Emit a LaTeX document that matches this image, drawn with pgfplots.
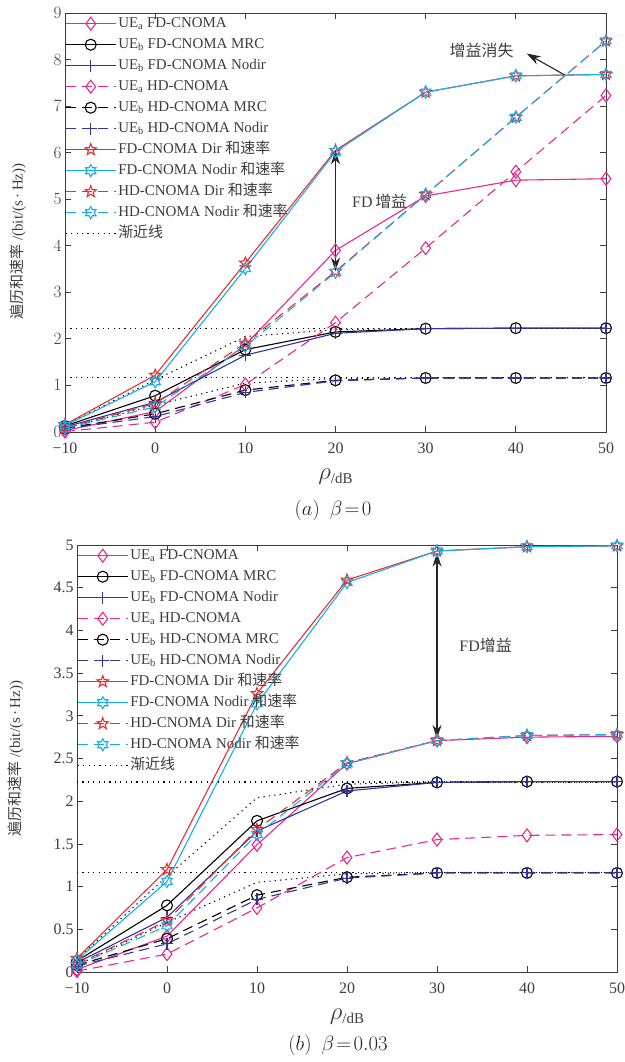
\documentclass[border=0pt]{standalone}
\usepackage{pgfplots}
\pgfplotsset{compat=1.18}
\usepackage{fontspec}
\setmainfont{Liberation Serif}
\newfontfamily\cjk{Noto Sans CJK SC}
\usetikzlibrary{arrows.meta}

\definecolor{cMag}{RGB}{232,40,140}
\definecolor{cBlue}{RGB}{50,50,160}
\definecolor{cRed}{RGB}{235,45,45}
\definecolor{cCyan}{RGB}{20,175,235}
\definecolor{cAx}{RGB}{60,60,60}

\pgfdeclareplotmark{pent}{%
 \pgfpathmoveto{\pgfpointpolar{90}{\pgfplotmarksize}}%
 \pgfpathlineto{\pgfpointpolar{126}{0.42*\pgfplotmarksize}}%
 \pgfpathlineto{\pgfpointpolar{162}{\pgfplotmarksize}}%
 \pgfpathlineto{\pgfpointpolar{198}{0.42*\pgfplotmarksize}}%
 \pgfpathlineto{\pgfpointpolar{234}{\pgfplotmarksize}}%
 \pgfpathlineto{\pgfpointpolar{270}{0.42*\pgfplotmarksize}}%
 \pgfpathlineto{\pgfpointpolar{306}{\pgfplotmarksize}}%
 \pgfpathlineto{\pgfpointpolar{342}{0.42*\pgfplotmarksize}}%
 \pgfpathlineto{\pgfpointpolar{18}{\pgfplotmarksize}}%
 \pgfpathlineto{\pgfpointpolar{54}{0.42*\pgfplotmarksize}}%
 \pgfpathclose\pgfusepathqstroke}
\pgfdeclareplotmark{hexa}{%
 \pgfpathmoveto{\pgfpointpolar{90}{\pgfplotmarksize}}%
 \pgfpathlineto{\pgfpointpolar{120}{0.577*\pgfplotmarksize}}%
 \pgfpathlineto{\pgfpointpolar{150}{\pgfplotmarksize}}%
 \pgfpathlineto{\pgfpointpolar{180}{0.577*\pgfplotmarksize}}%
 \pgfpathlineto{\pgfpointpolar{210}{\pgfplotmarksize}}%
 \pgfpathlineto{\pgfpointpolar{240}{0.577*\pgfplotmarksize}}%
 \pgfpathlineto{\pgfpointpolar{270}{\pgfplotmarksize}}%
 \pgfpathlineto{\pgfpointpolar{300}{0.577*\pgfplotmarksize}}%
 \pgfpathlineto{\pgfpointpolar{330}{\pgfplotmarksize}}%
 \pgfpathlineto{\pgfpointpolar{0}{0.577*\pgfplotmarksize}}%
 \pgfpathlineto{\pgfpointpolar{30}{\pgfplotmarksize}}%
 \pgfpathlineto{\pgfpointpolar{60}{0.577*\pgfplotmarksize}}%
 \pgfpathclose\pgfusepathqstroke}

\pgfplotsset{
 base/.style={
  scale only axis, xmin=-10, xmax=50,
  xtick={-10,0,10,20,30,40,50},
  xticklabels={−10,0,10,20,30,40,50},
  tick align=inside, major tick length=6bp,
  axis line style={cAx, line width=1pt},
  tick style={cAx, line width=0.8pt},
  tick label style={font=\fontsize{16}{18}\selectfont, text=cAx},
  xticklabel style={yshift=-7bp},
  clip=false,
  xlabel={{\fontsize{26}{28}\selectfont$\rho$}{\fontsize{15}{17}\selectfont\raisebox{-4bp}{/dB}}},
  xlabel style={text=cAx, yshift=-9bp},
  legend style={draw=none, fill=none, at={(0,1)}, anchor=north west,
    inner xsep=0pt, inner ysep=0pt,
    font=\fontsize{15}{17}\selectfont, text=cAx,
    nodes={inner sep=2bp, text height=12bp, text depth=5bp},
    cells={anchor=west}},
  legend image code/.code={\draw[mark repeat=2,mark phase=2,##1] plot coordinates {(0bp,0bp) (25bp,0bp) (50bp,0bp)};},
  every axis plot/.append style={line width=1.1pt},
  legend entries={
   UE\textsubscript{a} FD-CNOMA,
   UE\textsubscript{b} FD-CNOMA MRC,
   UE\textsubscript{b} FD-CNOMA Nodir,
   UE\textsubscript{a} HD-CNOMA,
   UE\textsubscript{b} HD-CNOMA MRC,
   UE\textsubscript{b} HD-CNOMA Nodir,
   FD-CNOMA Dir {\cjk 和速率},
   FD-CNOMA Nodir {\cjk 和速率},
   HD-CNOMA Dir {\cjk 和速率},
   HD-CNOMA Nodir {\cjk 和速率},
   {\cjk 渐近线}},
  ylabel={{\cjk 遍历和速率} /(bit/(s\,·\,Hz))},
 },
 sFDa/.style={cMag, solid, mark=diamond, mark size=6.5bp, mark options={solid}},
 sFDbM/.style={black, solid, mark=o, mark size=5.5bp, mark options={solid}},
 sFDbN/.style={cBlue, solid, mark=+, mark size=6bp, mark options={solid}},
 sHDa/.style={cMag, dash pattern=on 10bp off 6bp, mark=diamond, mark size=6.5bp, mark options={solid}},
 sHDbM/.style={black, dash pattern=on 10bp off 6bp, mark=o, mark size=5.5bp, mark options={solid}},
 sHDbN/.style={cBlue, dash pattern=on 10bp off 6bp, mark=+, mark size=6bp, mark options={solid}},
 sFDsD/.style={cRed, solid, mark=pent, mark size=6bp, mark options={solid}},
 sFDsN/.style={cCyan, solid, mark=hexa, mark size=6bp, mark options={solid}},
 sHDsD/.style={cRed, dash pattern=on 10bp off 6bp, mark=pent, mark size=6bp, mark options={solid}},
 sHDsN/.style={cCyan, dash pattern=on 10bp off 6bp, mark=hexa, mark size=6bp, mark options={solid}},
 sAsym/.style={black, line width=1.1pt, dash pattern=on 1.2bp off 4.2bp, no markers},
}

\begin{document}
\begin{tikzpicture}
\path[use as bounding box] (0bp,0bp) rectangle (625bp,-1062bp);

% ---------------- (a) beta = 0 ----------------
\begin{axis}[base, at={(65bp,-432bp)}, anchor=south west,
  width=541bp, height=419bp, ymin=0, ymax=9, ytick={0,1,...,9},
  ylabel style={at={(axis description cs:-0.087,0.455)}, anchor=center, font=\fontsize{15}{17}\selectfont, text=cAx}]
\addplot[sAsym, forget plot] coordinates {(-10,2.225) (50,2.225)};
\addplot[sAsym, forget plot] coordinates {(-10,1.165) (50,1.165)};
\addplot[sAsym, forget plot] coordinates {(-10,0.15) (0,1.12) (10,2.05) (20,2.20) (30,2.225) (40,2.225) (50,2.225)};
\addplot[sAsym, forget plot] coordinates {(-10,0.08) (0,0.58) (10,1.05) (20,1.15) (30,1.165) (40,1.165) (50,1.165)};
\addplot[sFDa] coordinates {(-10,0.03) (0,0.44) (10,1.87) (20,3.90) (30,5.07) (40,5.41) (50,5.44)};
\addplot[sFDbM] coordinates {(-10,0.13) (0,0.78) (10,1.77) (20,2.15) (30,2.22) (40,2.23) (50,2.23)};
\addplot[sFDbN] coordinates {(-10,0.11) (0,0.64) (10,1.65) (20,2.12) (30,2.22) (40,2.23) (50,2.23)};
\addplot[sHDa] coordinates {(-10,0.01) (0,0.21) (10,1.02) (20,2.35) (30,3.95) (40,5.59) (50,7.23)};
\addplot[sHDbM] coordinates {(-10,0.08) (0,0.39) (10,0.90) (20,1.11) (30,1.16) (40,1.16) (50,1.16)};
\addplot[sHDbN] coordinates {(-10,0.07) (0,0.33) (10,0.85) (20,1.10) (30,1.16) (40,1.16) (50,1.16)};
\addplot[sFDsD] coordinates {(-10,0.16) (0,1.22) (10,3.63) (20,6.05) (30,7.30) (40,7.65) (50,7.68)};
\addplot[sFDsN] coordinates {(-10,0.14) (0,1.08) (10,3.51) (20,6.02) (30,7.30) (40,7.65) (50,7.68)};
\addplot[sHDsD] coordinates {(-10,0.09) (0,0.61) (10,1.91) (20,3.45) (30,5.10) (40,6.76) (50,8.40)};
\addplot[sHDsN] coordinates {(-10,0.08) (0,0.54) (10,1.84) (20,3.43) (30,5.10) (40,6.76) (50,8.40)};
\addlegendimage{sAsym}
\draw[black!85, line width=1.1pt, {Stealth[length=14bp,width=9bp]}-{Stealth[length=14bp,width=9bp]}] (axis cs:20,3.45) -- (axis cs:20,6.05);
\node[text=cAx, font=\fontsize{16}{18}\selectfont] at (axis cs:24.9,4.95) {FD\,{\cjk 增益}};
\node[text=cAx, font=\fontsize{16}{18}\selectfont] at (axis cs:36.2,8.2) {{\cjk 增益消失}};
\draw[black!85, line width=1.1pt, -{Stealth[length=14bp,width=9bp]}] (axis cs:45.4,7.67) -- (axis cs:41.2,8.13);
\end{axis}
\node[text=black!85] at (333bp,-510bp) {\fontsize{20}{22}\selectfont$(a)\ \ \beta\!=\!0$};

% ---------------- (b) beta = 0.03 ----------------
\begin{axis}[base, at={(77bp,-972bp)}, anchor=south west,
  width=540bp, height=427bp, ymin=0, ymax=5, ytick={0,0.5,...,5},
  yticklabels={0,0.5,1,1.5,2,2.5,3,3.5,4,4.5,5},
  ylabel style={at={(axis description cs:-0.114,0.5)}, anchor=center, font=\fontsize{15}{17}\selectfont, text=cAx}]
\addplot[sAsym, forget plot] coordinates {(-10,2.225) (50,2.225)};
\addplot[sAsym, forget plot] coordinates {(-10,1.165) (50,1.165)};
\addplot[sAsym, forget plot] coordinates {(-10,0.15) (0,1.12) (10,2.04) (20,2.20) (30,2.225) (40,2.225) (50,2.225)};
\addplot[sAsym, forget plot] coordinates {(-10,0.08) (0,0.58) (10,1.05) (20,1.15) (30,1.165) (40,1.165) (50,1.165)};
\addplot[sFDa] coordinates {(-10,0.03) (0,0.42) (10,1.49) (20,2.44) (30,2.71) (40,2.75) (50,2.76)};
\addplot[sFDbM] coordinates {(-10,0.13) (0,0.78) (10,1.77) (20,2.15) (30,2.22) (40,2.23) (50,2.23)};
\addplot[sFDbN] coordinates {(-10,0.11) (0,0.64) (10,1.65) (20,2.12) (30,2.22) (40,2.23) (50,2.23)};
\addplot[sHDa] coordinates {(-10,0.01) (0,0.21) (10,0.75) (20,1.34) (30,1.55) (40,1.60) (50,1.61)};
\addplot[sHDbM] coordinates {(-10,0.08) (0,0.39) (10,0.90) (20,1.11) (30,1.16) (40,1.16) (50,1.16)};
\addplot[sHDbN] coordinates {(-10,0.07) (0,0.33) (10,0.85) (20,1.10) (30,1.16) (40,1.16) (50,1.16)};
\addplot[sFDsD] coordinates {(-10,0.16) (0,1.20) (10,3.26) (20,4.59) (30,4.93) (40,4.98) (50,4.99)};
\addplot[sFDsN] coordinates {(-10,0.14) (0,1.06) (10,3.14) (20,4.56) (30,4.93) (40,4.98) (50,4.99)};
\addplot[sHDsD] coordinates {(-10,0.09) (0,0.60) (10,1.67) (20,2.45) (30,2.71) (40,2.77) (50,2.78)};
\addplot[sHDsN] coordinates {(-10,0.08) (0,0.54) (10,1.61) (20,2.44) (30,2.71) (40,2.77) (50,2.78)};
\addlegendimage{sAsym}
\draw[black!85, line width=1.1pt, {Stealth[length=14bp,width=9bp]}-{Stealth[length=14bp,width=9bp]}] (axis cs:30,2.73) -- (axis cs:30,4.91);
\node[text=cAx, font=\fontsize{16}{18}\selectfont] at (axis cs:35.4,3.83) {FD{\cjk 增益}};
\end{axis}
\node[text=black!85] at (338bp,-1045bp) {\fontsize{20}{22}\selectfont$(b)\ \ \beta\!=\!0.03$};
\end{tikzpicture}
\end{document}
